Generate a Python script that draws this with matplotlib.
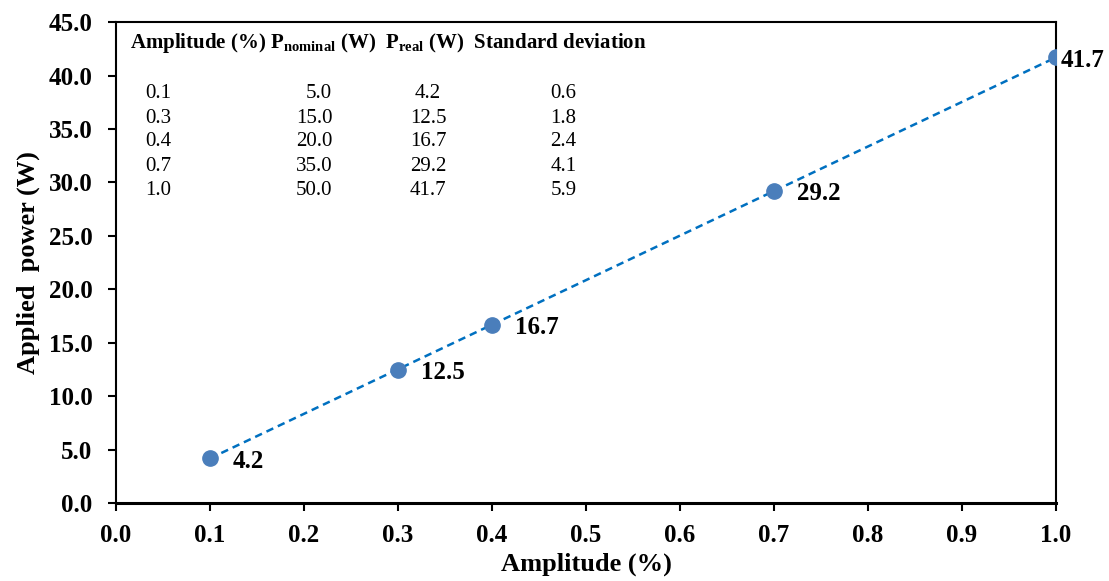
import matplotlib.pyplot as plt
import numpy as np

# Measured amplitude vs. applied power
amplitude = [0.1, 0.3, 0.4, 0.7, 1.0]
p_nominal = [5.0, 15.0, 20.0, 35.0, 50.0]
p_real = [4.2, 12.5, 16.7, 29.2, 41.7]
std_dev = [0.6, 1.8, 2.4, 4.1, 5.9]

x_ticks = np.arange(0.0, 1.01, 0.1)
y_ticks = np.arange(0.0, 45.1, 5.0)

plt.rcParams["font.family"] = ["Liberation Serif", "DejaVu Serif"]
plt.rcParams["mathtext.fontset"] = "custom"
plt.rcParams["mathtext.rm"] = "Liberation Serif:bold"
plt.rcParams["mathtext.bf"] = "Liberation Serif:bold"

fig = plt.figure(figsize=(11.09, 5.81), dpi=100)
ax = fig.add_axes([0.1046, 0.134, 0.8476, 0.828])

# linear trendline through the measured points
coef = np.polyfit(amplitude, p_real, 1)
xs = np.array([min(amplitude), max(amplitude)])
ax.plot(xs, np.polyval(coef, xs), ls=(0, (3, 2)), color="#0070C0", lw=1.8, zorder=2)
ax.plot(amplitude, p_real, "o", color="#4A7EBB", ms=11, zorder=3)

# value labels, last one tucked against the right edge
label_dx = [16.5, 16.5, 16.5, 16.5, 3]
for x, y, dx in zip(amplitude, p_real, label_dx):
    ax.annotate(f"{y:.1f}", (x, y), xytext=(dx, -2), textcoords="offset points",
                ha="left", va="center", fontsize=18, fontweight="bold",
                annotation_clip=False, zorder=4)

ax.set_xlim(0, 1.0)
ax.set_ylim(0, 45)
ax.set_xticks(x_ticks)
ax.set_yticks(y_ticks)
ax.set_xticklabels([f"{v:.1f}" for v in x_ticks])
ax.set_yticklabels([f"{v:.1f}" for v in y_ticks])
ax.tick_params(direction="out", length=6, width=1.5, labelsize=18)
ax.tick_params(axis="y", pad=11)
ax.tick_params(axis="x", pad=9)
for lbl in ax.get_xticklabels() + ax.get_yticklabels():
    lbl.set_fontweight("bold")
for s in ax.spines.values():
    s.set_linewidth(1.5)
ax.spines["bottom"].set_linewidth(2.2)

ax.set_xlabel("Amplitude (%)", fontsize=19, fontweight="bold", labelpad=4)
ax.set_ylabel("Applied  power (W)", fontsize=19, fontweight="bold", labelpad=6)

# inset table of the measurements
ax.text(0.015, 0.956,
        r"Amplitude (%) P$_{\mathrm{nominal}}$ (W)  P$_{\mathrm{real}}$ (W)  Standard deviation",
        transform=ax.transAxes, fontsize=15, fontweight="bold", va="center", ha="left")
row_y = [0.852, 0.800, 0.751, 0.699, 0.649]
for yy, a, pn, pr, sd in zip(row_y, amplitude, p_nominal, p_real, std_dev):
    ax.text(0.031, yy, f"{a:.1f}", transform=ax.transAxes, fontsize=15, va="center", ha="left")
    ax.text(0.230, yy, f"{pn:.1f}", transform=ax.transAxes, fontsize=15, va="center", ha="right")
    ax.text(0.332, yy, f"{pr:.1f}", transform=ax.transAxes, fontsize=15, va="center", ha="center")
    ax.text(0.476, yy, f"{sd:.1f}", transform=ax.transAxes, fontsize=15, va="center", ha="center")

fig.savefig("out.png", dpi=100)
